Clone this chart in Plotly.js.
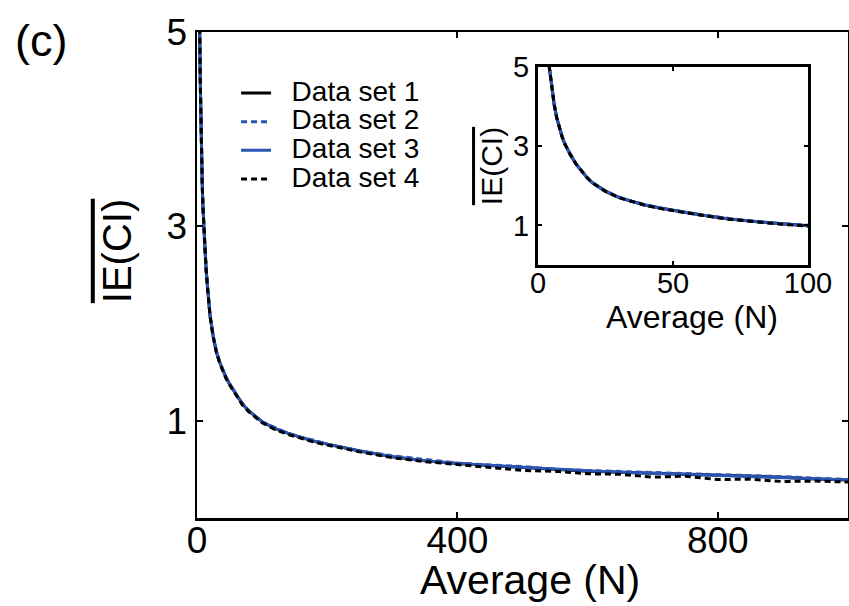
<!DOCTYPE html>
<html><head><meta charset="utf-8">
<script src="https://cdn.plot.ly/plotly-3.0.1.min.js"></script>
<style>html,body{margin:0;padding:0;background:#fff}#chart{width:849px;height:606px}</style>
</head><body><div id="chart"></div>
<script>
const averageN = [1,2,3,4,5,6,7,8,9,10,12,14,16,18,20,25,30,35,40,45,50,60,70,80,90,100,120,140,160,180,200,250,300,350,400,450,500,550,600,650,700,750,800,850,900,950,1000];
const dataSet1 = [10.5,7.3,5.9,5.1,4.5,4.05,3.7,3.45,3.22,3.05,2.78,2.56,2.38,2.22,2.08,1.86,1.7,1.6,1.51,1.44,1.38,1.27,1.17,1.1,1.04,0.99,0.92,0.87,0.83,0.79,0.76,0.69,0.63,0.59,0.56,0.54,0.52,0.5,0.48,0.47,0.46,0.45,0.44,0.43,0.42,0.4,0.39];
const dataSet2 = [10.4,7.28,5.88,5.08,4.49,4.04,3.7,3.44,3.22,3.04,2.78,2.55,2.38,2.21,2.08,1.86,1.71,1.6,1.52,1.44,1.38,1.27,1.18,1.1,1.04,0.99,0.93,0.87,0.83,0.8,0.76,0.69,0.64,0.6,0.565,0.545,0.53,0.5,0.49,0.475,0.465,0.455,0.445,0.44,0.425,0.41,0.395];
const dataSet3 = [10.5,7.31,5.9,5.1,4.5,4.05,3.71,3.45,3.23,3.05,2.79,2.56,2.39,2.22,2.09,1.87,1.71,1.6,1.51,1.44,1.38,1.27,1.17,1.1,1.04,0.99,0.92,0.87,0.83,0.79,0.76,0.69,0.63,0.59,0.56,0.54,0.52,0.505,0.485,0.47,0.46,0.45,0.44,0.43,0.42,0.405,0.39];
const dataSet4 = [10.6,7.35,5.92,5.1,4.5,4.05,3.7,3.45,3.22,3.05,2.78,2.56,2.38,2.22,2.08,1.86,1.7,1.59,1.5,1.43,1.37,1.26,1.16,1.09,1.03,0.98,0.91,0.86,0.82,0.78,0.75,0.68,0.62,0.58,0.55,0.52,0.49,0.48,0.455,0.45,0.42,0.43,0.395,0.4,0.375,0.38,0.37];
const seriesNames = ['Data set 1','Data set 2','Data set 3','Data set 4'];
const mainXTicks = [0,400,800];
const mainYTicks = [1,3,5];
const insetXTicks = [0,50,100];
const insetYTicks = [1,3,5];

const BLUE = '#2a55b5';
const styles = [
  {color:'#000000', dash:'solid'},
  {color:BLUE, dash:'6px,4px'},
  {color:BLUE, dash:'solid'},
  {color:'#000000', dash:'6px,4px'}
];
const series = [dataSet1, dataSet2, dataSet3, dataSet4];
const FONT = 'Liberation Sans, Arial, Helvetica, sans-serif';
const traces = [];
series.forEach((ys, i) => {
  traces.push({
    x: averageN, y: ys, type:'scatter', mode:'lines',
    name: '<span style="font-size:28px">\u00a0\u00a0' + seriesNames[i] + '</span>',
    line: {color: styles[i].color, dash: styles[i].dash, width: 3},
    xaxis:'x', yaxis:'y', showlegend:true
  });
});
series.forEach((ys, i) => {
  traces.push({
    x: averageN, y: ys, type:'scatter', mode:'lines',
    line: {color: styles[i].color, dash: styles[i].dash, width: 3},
    xaxis:'x2', yaxis:'y2', showlegend:false
  });
});

const ytitle = '<span style="text-decoration:overline">IE(CI)</span>';
const axBase = {
  showline:true, linecolor:'#000', ticks:'inside', tickcolor:'#000',
  mirror:'ticks', showgrid:false, zeroline:false, fixedrange:true
};
const annBase = {xref:'paper', yref:'paper', showarrow:false, xanchor:'center', yanchor:'middle'};
const layout = {
  width:849, height:606,
  margin:{l:197, r:1, t:32, b:88, pad:0},
  paper_bgcolor:'#fff', plot_bgcolor:'#fff',
  font:{family:FONT, color:'#000'},
  showlegend:true,
  legend:{x:0.06, xanchor:'left', y:0.914, yanchor:'top', bgcolor:'rgba(0,0,0,0)',
          borderwidth:0, font:{size:19.7, family:FONT, color:'#000'}},
  xaxis: Object.assign({}, axBase, {
    range:[0,1000], tickmode:'array', tickvals:mainXTicks, ticktext:mainXTicks.map(String),
    ticklen:6, tickwidth:2, linewidth:2.5, tickfont:{size:37}, ticklabelstandoff:-12,
    title:{text:''}, anchor:'y'
  }),
  yaxis: Object.assign({}, axBase, {
    range:[0,5], tickmode:'array', tickvals:mainYTicks, ticktext:mainYTicks.map(String),
    ticklen:6, tickwidth:2, linewidth:2.5, tickfont:{size:37},
    title:{text:''}, anchor:'x'
  }),
  xaxis2: Object.assign({}, axBase, {
    domain:[0.5238,0.9386], range:[0,100], tickmode:'array', tickvals:insetXTicks, ticktext:insetXTicks.map(String),
    ticklen:4, tickwidth:2, linewidth:3, tickfont:{size:29}, ticklabelstandoff:-10,
    title:{text:''}, anchor:'y2'
  }),
  yaxis2: Object.assign({}, axBase, {
    domain:[0.5206,0.928], range:[0,5], tickmode:'array', tickvals:insetYTicks, ticktext:insetYTicks.map(String),
    ticklen:4, tickwidth:2, linewidth:3, tickfont:{size:29},
    title:{text:ytitle, font:{size:30}, standoff:2}, anchor:'x2'
  }),
  annotations:[
    Object.assign({}, annBase, {text:'(c)', x:-0.2396, y:0.982, font:{size:45, family:FONT, color:'#000'}}),
    Object.assign({}, annBase, {text:ytitle, x:-0.1229, y:0.549, textangle:-90, font:{size:40, family:FONT, color:'#000'}}),
    Object.assign({}, annBase, {text:'Average (N)', x:0.5115, y:-0.1276, font:{size:41, family:FONT, color:'#000'}}),
    Object.assign({}, annBase, {text:'Average (N)', x:0.7604, y:0.4136, font:{size:32, family:FONT, color:'#000'}})
  ]
};
Plotly.newPlot('chart', traces, layout, {staticPlot:true, displayModeBar:false});
</script>
</body></html>
